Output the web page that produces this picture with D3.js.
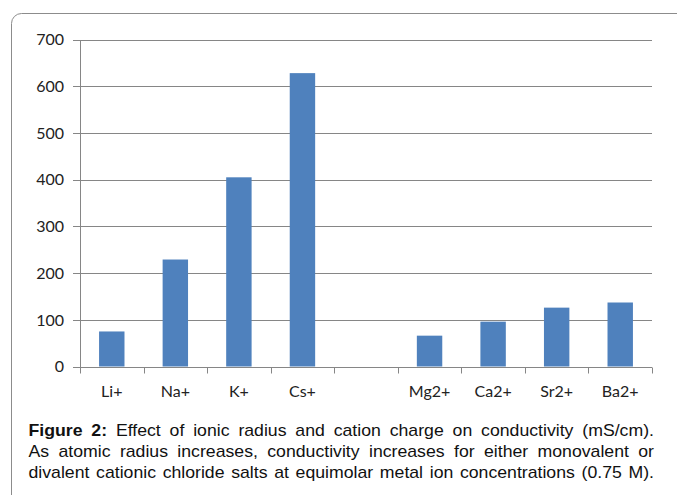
<!DOCTYPE html>
<html>
<head>
<meta charset="utf-8">
<script src="https://cdn.jsdelivr.net/npm/d3@7"></script>
<style>
  html, body { margin: 0; padding: 0; background: #fff; }
  svg { display: block; }
</style>
</head>
<body>
<svg id="chart" width="677" height="495"></svg>
<script>
// Conductivity (mS/cm) of chloride salts, monovalent then divalent cations
const categories = ["Li+", "Na+", "K+", "Cs+", "", "Mg2+", "Ca2+", "Sr2+", "Ba2+"];
const conductivity = [75, 229, 405, 628, null, 66, 96, 126, 137];
const yTicks = [0, 100, 200, 300, 400, 500, 600, 700];

// Caption lines; each is a list of [text, bold] runs
const captionLines = [
  [["Figure 2:", true], ["Effect of ionic radius and cation charge on conductivity (mS/cm).", false]],
  [["As atomic radius increases, conductivity increases for either monovalent or", false]],
  [["divalent cationic chloride salts at equimolar metal ion concentrations (0.75 M).", false]]
];

const svg = d3.select("#chart");
const plot = { left: 80, right: 652, top: 39.5, bottom: 366.5 };

// Outer frame (rounded, running past the right and bottom edges)
svg.append("rect")
  .attr("x", 11.5).attr("y", 13.5)
  .attr("width", 760).attr("height", 600)
  .attr("rx", 10).attr("ry", 10)
  .attr("fill", "#fff")
  .attr("stroke", "#8c8c8c")
  .attr("stroke-width", 1);

const x = d3.scaleBand()
  .domain(categories)
  .range([plot.left, plot.right])
  .paddingInner(0.6)
  .paddingOuter(0.3);

const y = d3.scaleLinear()
  .domain([0, 700])
  .range([plot.bottom, plot.top]);

const axisFont = "Lato, 'Open Sans', sans-serif";
const gridColor = "#868686";

// Horizontal gridlines with short outside ticks
svg.append("g").selectAll("line")
  .data(yTicks)
  .join("line")
  .attr("x1", plot.left - 7).attr("x2", plot.right)
  .attr("y1", d => Math.round(y(d)) + 0.5)
  .attr("y2", d => Math.round(y(d)) + 0.5)
  .attr("stroke", gridColor)
  .attr("stroke-width", 1);

// Y axis line
svg.append("line")
  .attr("x1", plot.left + 0.5).attr("x2", plot.left + 0.5)
  .attr("y1", Math.round(y(700)) + 0.5).attr("y2", Math.round(y(0)) + 0.5)
  .attr("stroke", gridColor);

// Y tick labels
svg.append("g").selectAll("text")
  .data(yTicks)
  .join("text")
  .attr("x", plot.left - 16)
  .attr("y", d => y(d) + 5.8)
  .attr("text-anchor", "end")
  .attr("font-family", axisFont)
  .attr("font-size", 16)
  .attr("fill", "#222")
  .text(d => d);

// Category boundary ticks below the baseline
const step = x.step();
const start = x(categories[0]) - step * x.paddingInner() / 2;
const bounds = d3.range(categories.length + 1).map(i => start + i * step);
svg.append("g").selectAll("line")
  .data(bounds)
  .join("line")
  .attr("x1", d => Math.round(d) + 0.5).attr("x2", d => Math.round(d) + 0.5)
  .attr("y1", Math.round(y(0)) + 0.5).attr("y2", Math.round(y(0)) + 6.5)
  .attr("stroke", gridColor);

// Bars
const rows = categories.map((c, i) => ({ c, v: conductivity[i] }));
svg.append("g").selectAll("rect")
  .data(rows.filter(d => d.v != null))
  .join("rect")
  .attr("x", d => x(d.c))
  .attr("width", x.bandwidth())
  .attr("y", d => y(d.v))
  .attr("height", d => y(0) - y(d.v))
  .attr("fill", "#4F81BD");

// Category labels
svg.append("g").selectAll("text")
  .data(categories)
  .join("text")
  .attr("x", d => x(d) + x.bandwidth() / 2)
  .attr("y", 396.5)
  .attr("text-anchor", "middle")
  .attr("font-family", axisFont)
  .attr("font-size", 16)
  .attr("fill", "#222")
  .text(d => d);

// Justified caption
const capFont = "'Liberation Sans', Arial, sans-serif";
const capSize = 17;
const stretch = 1.04;
const capLeft = 28.5, capRight = 654;
const capBaselines = [436.5, 457.5, 478.5];

captionLines.forEach((runs, li) => {
  const g = svg.append("g");
  const words = [];
  runs.forEach(([t, bold]) => t.split(" ").forEach(w => words.push({ w, bold })));
  const nodes = words.map(d => g.append("text")
    .attr("font-family", capFont)
    .attr("font-size", capSize)
    .attr("font-weight", d.bold ? "bold" : "normal")
    .attr("fill", "#111")
    .attr("y", capBaselines[li])
    .text(d.w));
  const widths = nodes.map(n => n.node().getComputedTextLength());
  const total = d3.sum(widths);
  const avail = capRight - capLeft;
  let scale = stretch;
  let gap = (avail - total * scale) / (words.length - 1);
  if (gap < 3.5) { // squeeze glyphs slightly when the line is too long
    scale = (avail - 3.5 * (words.length - 1)) / total;
    gap = 3.5;
  }
  let cx = capLeft;
  nodes.forEach((n, i) => {
    n.attr("transform", `translate(${cx},0) scale(${scale},1)`).attr("x", 0);
    cx += widths[i] * scale + gap;
  });
});
</script>
</body>
</html>
